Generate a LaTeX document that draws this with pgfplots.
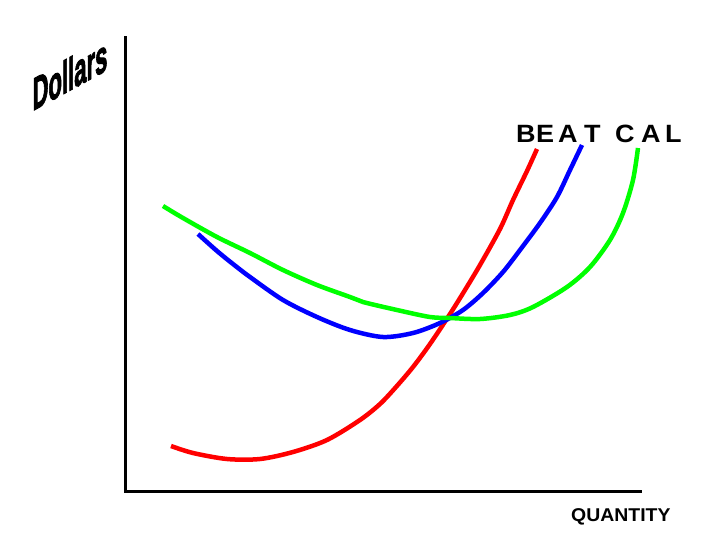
\documentclass[border=0pt]{standalone}
\usepackage{pgfplots}
\pgfplotsset{compat=1.18}
\usepackage{fontspec}
\setmainfont{Liberation Sans}
\newfontfamily\heavy[FakeBold=2.5]{Liberation Sans}
\tikzset{lbl/.style={anchor=base west, inner sep=0pt, xscale=1.08, transform shape, font=\fontsize{25bp}{30bp}\selectfont\bfseries}}
\begin{document}
\begin{tikzpicture}
\useasboundingbox (0,0) rectangle (720bp,540bp);
\begin{axis}[
  scale only axis, width=720bp, height=540bp,
  xmin=0, xmax=720, ymin=0, ymax=540, y dir=reverse,
  hide axis, clip=false]
% axes
\addplot[black, line width=3bp, line join=miter] coordinates {(125,36) (125,491) (642,491)};
% red curve
\addplot[red, line width=4.5bp, smooth] coordinates {
(171,446) (193,453) (227,459) (260,459) (293,452) (327,440) (360,420) (380,404) (396,387) (413,367) (430,344) (450,314) (465,290) (480,265) (500,229) (513,200) (527,171) (537,149)};
% blue curve
\addplot[blue, line width=4.5bp, smooth] coordinates {
(198,234) (217,251) (233,264) (250,277) (283,300) (317,317) (350,330) (383,337) (413,333) (440,323) (463,310) (483,293) (503,272) (520,250) (540,223) (557,197) (570,170) (582,145)};
% green curve
\addplot[green, line width=4.5bp, smooth] coordinates {
(163,206) (183,218) (217,237) (250,253) (283,270) (317,285) (350,297) (363,302) (397,310) (430,317) (450,318) (480,319) (510,315) (533,307) (567,287) (590,267) (610,240) (623,213) (633,180) (638,148)};
% labels
\node[lbl] at (axis cs:516,142) {B};
\node[lbl] at (axis cs:536,142) {E};
\node[lbl] at (axis cs:558,142) {A};
\node[lbl] at (axis cs:584,142) {T};
\node[lbl] at (axis cs:615,142) {C};
\node[lbl] at (axis cs:641,142) {A};
\node[lbl] at (axis cs:665,142) {L};
\node[anchor=base west, inner sep=0pt, xscale=1.05, transform shape, font=\fontsize{18.5bp}{21bp}\selectfont\bfseries] at (axis cs:571,521) {QUANTITY};
\node[inner sep=0pt, yslant=0.55, xscale=0.48, transform shape, font=\fontsize{46bp}{50bp}\selectfont\heavy\bfseries] at (axis cs:70,74) {Dollars};
\end{axis}
\end{tikzpicture}
\end{document}
